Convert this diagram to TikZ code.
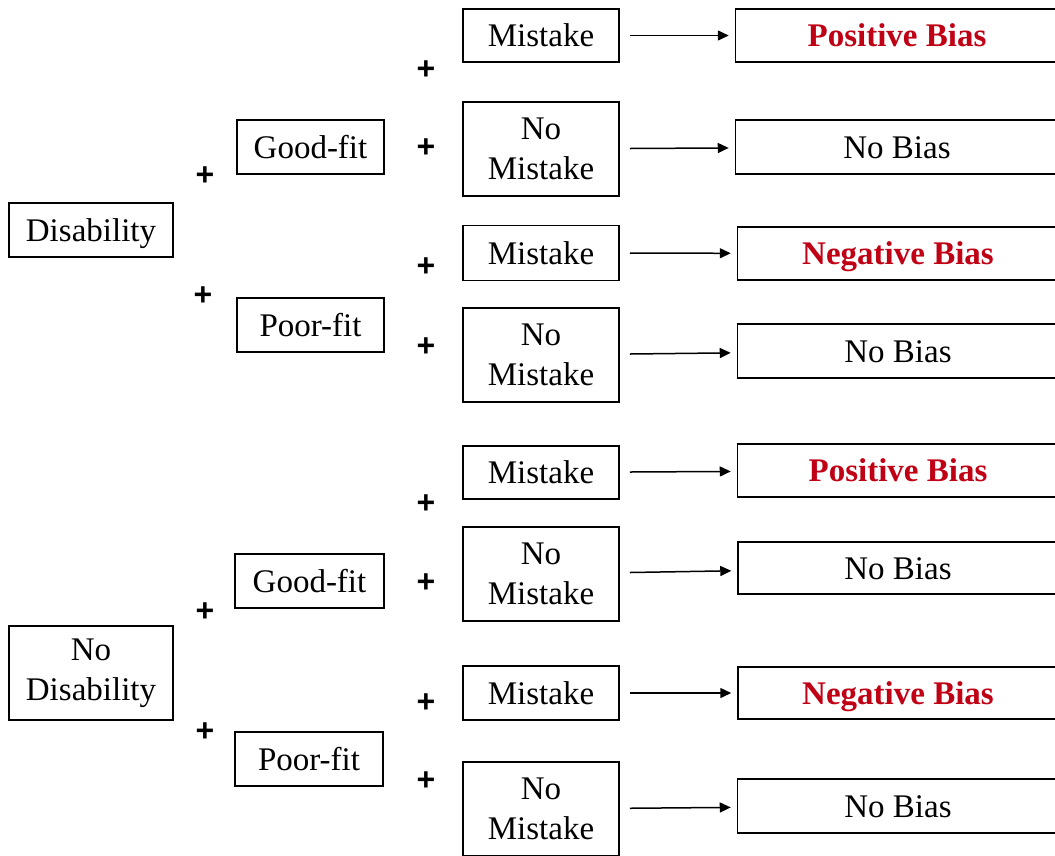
\documentclass[tikz,border=0pt]{standalone}
\usepackage{fontspec}
\setmainfont{Liberation Serif}
\newfontfamily\plusfont{Liberation Sans}
\usetikzlibrary{arrows.meta}
\definecolor{biasred}{RGB}{192,0,20}
\tikzset{
  box/.style={draw=black, line width=1.5pt, inner sep=0pt, align=center,
    font=\fontsize{33}{40}\selectfont},
  one/.style={text height=25pt, text depth=3pt},
  mbox/.style={box, one, minimum width=156pt, minimum height=53pt},
  nmbox/.style={box, minimum width=156pt, minimum height=94pt},
  fitbox/.style={box, one, minimum width=147pt, minimum height=54pt},
  resbox/.style={box, one, minimum width=323pt, minimum height=53pt},
  plus/.style={inner sep=0pt, font=\plusfont\fontsize{32}{32}\selectfont\bfseries},
  arr/.style={-{Triangle[length=11pt,width=10pt]}, line width=1.5pt, shorten <=10pt, shorten >=6pt}
}
\begin{document}
\begin{tikzpicture}[x=1pt,y=-1pt]
\useasboundingbox (0,0) rectangle (1055,855);
\clip (0,0) rectangle (1055,855);
% ---------- top tree ----------
\node[box, one, minimum width=164pt, minimum height=54pt] (dis) at (91,230) {Disability};
\node[fitbox] (g1) at (310.5,147) {Good-fit};
\node[fitbox] (p1) at (310.5,325) {Poor-fit};
\node[mbox] (m1) at (541,35.5) {Mistake};
\node[nmbox] (n1) at (541,149) {No\\Mistake};
\node[mbox, minimum height=55pt] (m2) at (541,253) {Mistake};
\node[nmbox] (n2) at (541,355) {No\\Mistake};
\node[resbox] (r1) at (897,35.5) {\textcolor{biasred}{\textbf{Positive Bias}}};
\node[resbox, minimum height=54pt] (r2) at (897,147) {No Bias};
\node[resbox, minimum width=321pt] (r3) at (898,253.5) {\textcolor{biasred}{\textbf{Negative Bias}}};
\node[resbox, minimum width=321pt, minimum height=54pt] (r4) at (898,351) {No Bias};
\node[plus] (pl1) at (205,176) {+};
\node[plus] (pl2) at (203,296) {+};
\node[plus] (pl3) at (426,70) {+};
\node[plus] (pl4) at (426,148) {+};
\node[plus] (pl5) at (426,267) {+};
\node[plus] (pl6) at (426,347) {+};
\draw[arr] (m1) -- (r1);
\draw[arr] (n1) -- (r2);
\draw[arr] (m2) -- (r3);
\draw[arr] (n2) -- (r4);
% ---------- bottom tree ----------
\node[box, minimum width=164pt, minimum height=94pt] (nd) at (91,673) {No\\Disability};
\node[fitbox, minimum width=149pt] (g2) at (309.5,581) {Good-fit};
\node[fitbox, minimum width=148pt] (p2) at (309,759) {Poor-fit};
\node[mbox] (m3) at (541,472.5) {Mistake};
\node[nmbox] (n3) at (541,574) {No\\Mistake};
\node[mbox, minimum height=54pt] (m4) at (541,693) {Mistake};
\node[nmbox] (n4) at (541,809) {No\\Mistake};
\node[resbox, minimum width=321pt] (r5) at (898,470.5) {\textcolor{biasred}{\textbf{Positive Bias}}};
\node[resbox, minimum width=320pt, minimum height=52pt] (r6) at (898,568) {No Bias};
\node[resbox, minimum width=320pt, minimum height=52pt] (r7) at (898,693) {\textcolor{biasred}{\textbf{Negative Bias}}};
\node[resbox, minimum width=321pt, minimum height=54pt] (r8) at (898,806) {No Bias};
\node[plus] (pl7) at (205,612) {+};
\node[plus] (pl8) at (205,732) {+};
\node[plus] (pl9) at (426,504) {+};
\node[plus] (pl10) at (426,583) {+};
\node[plus] (pl11) at (426,703) {+};
\node[plus] (pl12) at (426,781) {+};
\draw[arr] (m3) -- (r5);
\draw[arr] (n3) -- (r6);
\draw[arr] (m4) -- (r7);
\draw[arr] (n4) -- (r8);
\end{tikzpicture}
\end{document}
